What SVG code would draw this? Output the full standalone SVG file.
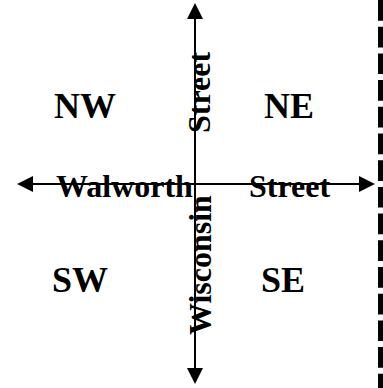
<svg xmlns="http://www.w3.org/2000/svg" width="383" height="388" viewBox="0 0 383 388">
<style>
.q{font-family:"Liberation Serif","Times New Roman",serif;font-weight:bold;font-size:36px;fill:#000}
.s{font-family:"Liberation Serif","Times New Roman",serif;font-weight:bold;font-size:32px;fill:#000}
.axis{stroke:#000;stroke-width:2;fill:none}
</style>
<defs>
<marker id="ah" markerUnits="userSpaceOnUse" markerWidth="16" markerHeight="16" viewBox="0 -8 16 16" refX="0" refY="0" orient="auto-start-reverse">
<path d="M0,-8 L16,0 L0,8 z" fill="#000"/>
</marker>
</defs>
<rect width="383" height="388" fill="#fff"/>
<g id="connectors">
<line class="axis" x1="195" y1="19" x2="195" y2="368" marker-start="url(#ah)" marker-end="url(#ah)"/>
<line class="axis" x1="33" y1="184" x2="359" y2="184" marker-start="url(#ah)" marker-end="url(#ah)"/>
</g>
<g id="border">
<line x1="380.5" y1="0" x2="380.5" y2="388" stroke="#000" stroke-width="5" stroke-dasharray="20.7 6"/>
</g>
<g id="nw"><text class="q" x="54" y="118">NW</text></g>
<g id="ne"><text class="q" x="264" y="118">NE</text></g>
<g id="sw"><text class="q" x="52" y="292">SW</text></g>
<g id="se"><text class="q" x="261" y="292">SE</text></g>
<g id="walworth"><text class="s" x="56" y="197">Walworth</text></g>
<g id="street-east"><text class="s" x="249" y="197">Street</text></g>
<g id="street-north"><text class="s" transform="translate(210,133) rotate(-90)">Street</text></g>
<g id="wisconsin"><text class="s" transform="translate(211,335) rotate(-90)">Wisconsin</text></g>
</svg>
